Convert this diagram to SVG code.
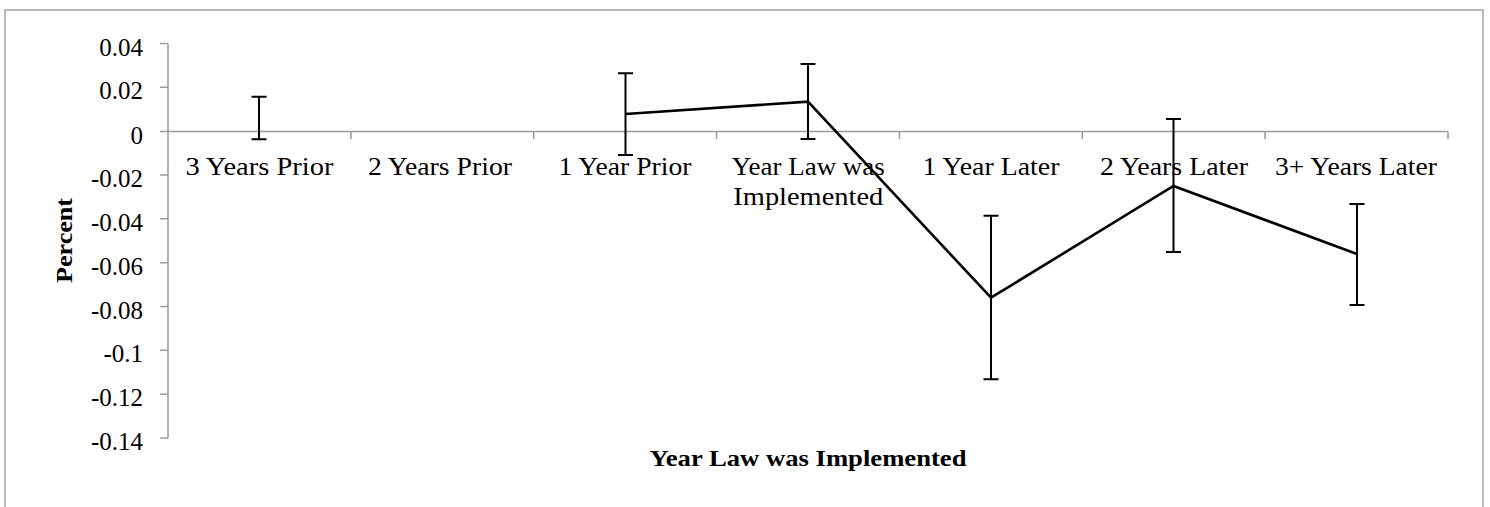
<svg xmlns="http://www.w3.org/2000/svg" width="1490" height="507" viewBox="0 0 1490 507">
<style>
.frame{fill:none;stroke:#a3a3a3;stroke-width:1.5}
.axis{fill:none;stroke:#9c9c9c;stroke-width:1.6}
.tick{font-family:"Liberation Serif","DejaVu Serif",serif;font-size:25px;fill:#000;text-anchor:end}
.cat{font-family:"Liberation Serif","DejaVu Serif",serif;font-size:25px;fill:#000;text-anchor:middle}
.title{font-family:"Liberation Serif","DejaVu Serif",serif;font-size:24px;font-weight:bold;fill:#000;text-anchor:middle}
.err{fill:none;stroke:#000;stroke-width:2}
.series{fill:none;stroke:#000;stroke-width:2.6;stroke-linejoin:miter}
</style>
<rect width="1490" height="507" fill="#fff"/>
<rect class="frame" x="5" y="10" width="1478" height="600"/>
<g id="axes">
<path class="axis" d="M168,43.5V438M160,43.5H168M160,87.3H168M160,131.5H168M160,175H168M160,218.8H168M160,262.7H168M160,306.5H168M160,350.3H168M160,394.2H168M160,438H168"/>
<path class="axis" d="M168,131.5H1448M350.9,131.5V139M533.7,131.5V139M716.6,131.5V139M899.4,131.5V139M1082.3,131.5V139M1265.1,131.5V139M1448,131.5V139"/>
</g>
<g id="y-labels">
<text class="tick" x="143" y="55.5">0.04</text>
<text class="tick" x="143" y="99.3">0.02</text>
<text class="tick" x="143" y="143.5">0</text>
<text class="tick" x="143" y="187">-0.02</text>
<text class="tick" x="143" y="230.8">-0.04</text>
<text class="tick" x="143" y="274.7">-0.06</text>
<text class="tick" x="143" y="318.5">-0.08</text>
<text class="tick" x="143" y="362.3">-0.1</text>
<text class="tick" x="143" y="406.2">-0.12</text>
<text class="tick" x="143" y="450">-0.14</text>
</g>
<g id="x-labels">
<text class="cat" x="259.4" y="175" textLength="148" lengthAdjust="spacingAndGlyphs">3 Years Prior</text>
<text class="cat" x="440" y="175" textLength="144" lengthAdjust="spacingAndGlyphs">2 Years Prior</text>
<text class="cat" x="625" y="175" textLength="133" lengthAdjust="spacingAndGlyphs">1 Year Prior</text>
<text class="cat" x="808.3" y="175" textLength="153" lengthAdjust="spacingAndGlyphs">Year Law was</text>
<text class="cat" x="808.3" y="205" textLength="150" lengthAdjust="spacingAndGlyphs">Implemented</text>
<text class="cat" x="991" y="175" textLength="137" lengthAdjust="spacingAndGlyphs">1 Year Later</text>
<text class="cat" x="1174" y="175" textLength="148" lengthAdjust="spacingAndGlyphs">2 Years Later</text>
<text class="cat" x="1356" y="175" textLength="162" lengthAdjust="spacingAndGlyphs">3+ Years Later</text>
</g>
<g id="axis-titles">
<text class="title" x="808" y="466" textLength="317" lengthAdjust="spacingAndGlyphs">Year Law was Implemented</text>
<text class="title" transform="translate(72,240.5) rotate(-90)" x="0" y="0" textLength="85" lengthAdjust="spacingAndGlyphs">Percent</text>
</g>
<g id="error-bars">
<path class="err" d="M259,96.7V139.3M251.5,96.7H266.5M251.5,139.3H266.5"/>
<path class="err" d="M625.5,73.3V155M618,73.3H633M618,155H633"/>
<path class="err" d="M808,64V139M800.5,64H815.5M800.5,139H815.5"/>
<path class="err" d="M991,215.7V379.3M983.5,215.7H998.5M983.5,379.3H998.5"/>
<path class="err" d="M1173.5,119V252M1166,119H1181M1166,252H1181"/>
<path class="err" d="M1357,204V305M1349.5,204H1364.5M1349.5,305H1364.5"/>
</g>
<g id="connectors">
<polyline class="series" points="625.5,114 808,101.7 991,297.7 1173.5,186 1357,254"/>
</g>
</svg>
